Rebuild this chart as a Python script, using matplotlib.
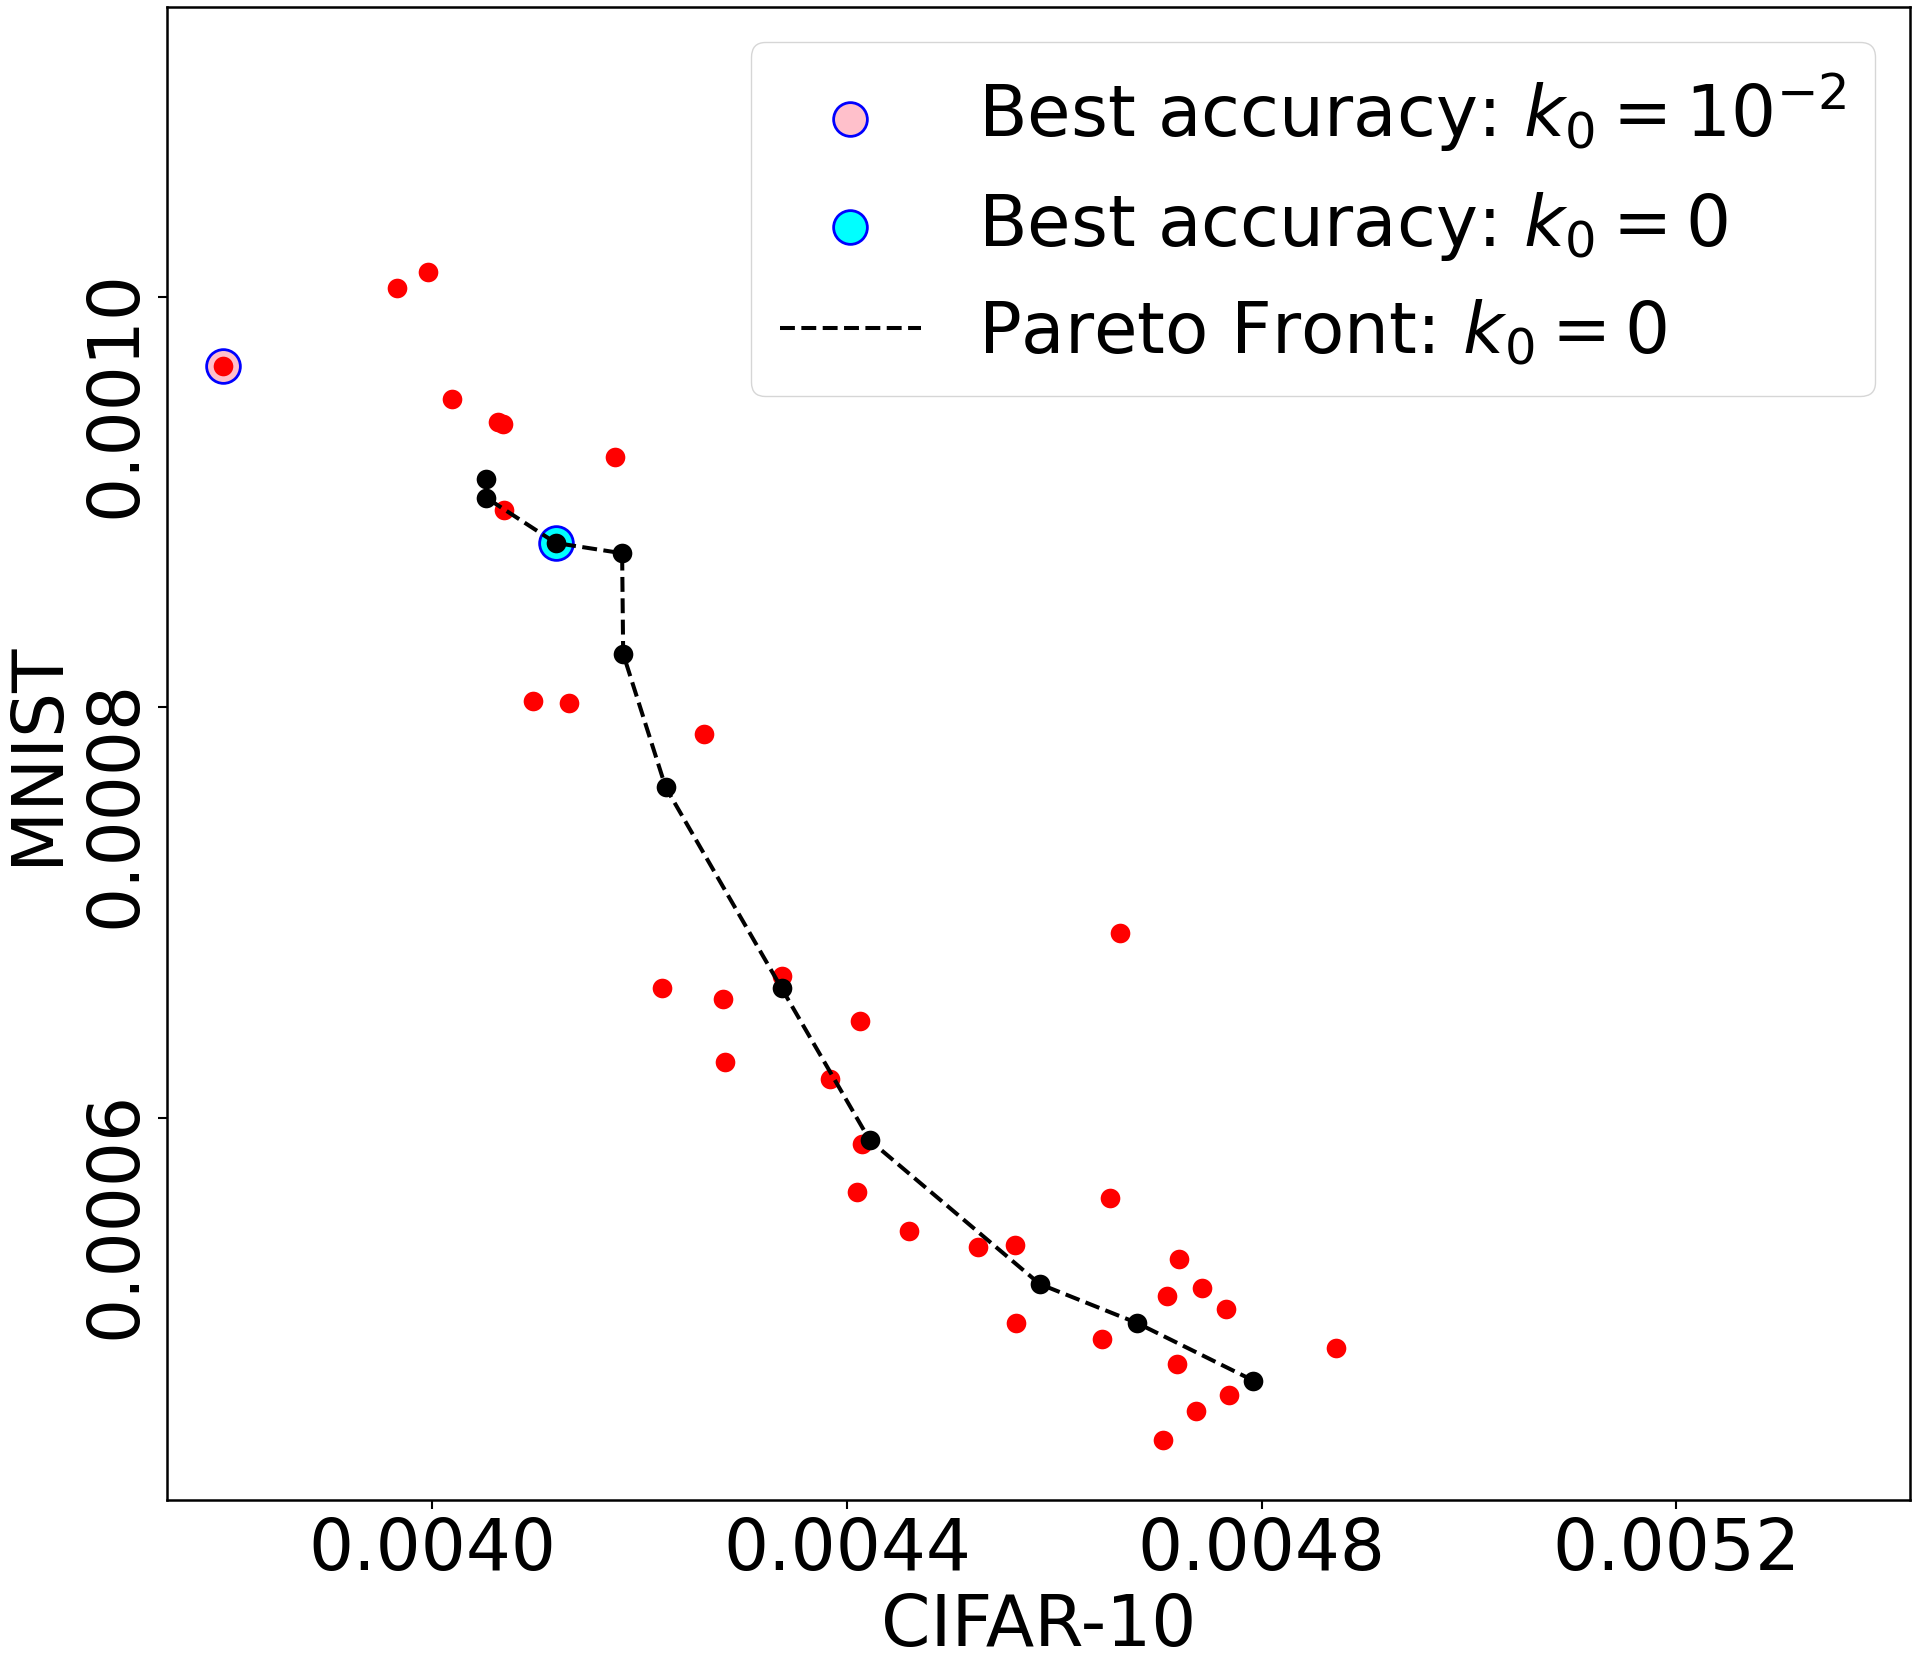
import matplotlib
matplotlib.use("Agg")
import matplotlib.pyplot as plt

# All evaluated configurations (CIFAR-10 vs MNIST)
cifar_all = [0.003798, 0.003966, 0.003996, 0.004019, 0.004063, 0.004068, 0.004176,
             0.004069, 0.004097, 0.004132, 0.004262, 0.004663, 0.004337, 0.004221,
             0.004280, 0.004413, 0.004282, 0.004384, 0.004414, 0.004410, 0.004654,
             0.004460, 0.004526, 0.004562, 0.004720, 0.004743, 0.004709, 0.004766,
             0.004563, 0.004646, 0.004872, 0.004718, 0.004769, 0.004737, 0.004705]
mnist_all = [0.000966, 0.001004, 0.001012, 0.000950, 0.000939, 0.000938, 0.000922,
             0.000896, 0.000803, 0.000802, 0.000787, 0.000690, 0.000669, 0.000663,
             0.000658, 0.000647, 0.000627, 0.000619, 0.000587, 0.000564, 0.000561,
             0.000545, 0.000537, 0.000538, 0.000531, 0.000517, 0.000513, 0.000507,
             0.000500, 0.000492, 0.000488, 0.000480, 0.000465, 0.000457, 0.000443]

# Pareto front (k0 = 0)
cifar_pareto = [0.004052, 0.004052, 0.004119, 0.004183, 0.004184, 0.004225,
                0.004337, 0.004422, 0.004586, 0.004680, 0.004792]
mnist_pareto = [0.000911, 0.000902, 0.000880, 0.000875, 0.000826, 0.000761,
                0.000663, 0.000589, 0.000519, 0.000500, 0.000472]

# Best accuracy points
best_k2 = (0.003798, 0.000966)
best_k0 = (0.004119, 0.000880)

xticks = [0.0040, 0.0044, 0.0048, 0.0052]
yticks = [0.0006, 0.0008, 0.0010]

FS = 51
fig = plt.figure(figsize=(19.19, 16.63), dpi=100)
ax = fig.add_axes([167/1919, 1 - 1500/1663, (1910-167)/1919, (1500-7)/1663])

ax.scatter([best_k2[0]], [best_k2[1]], s=590, facecolor='pink', edgecolor='blue',
           linewidths=2, zorder=2, label=r'Best accuracy: $k_0=10^{-2}$')
ax.scatter([best_k0[0]], [best_k0[1]], s=590, facecolor='cyan', edgecolor='blue',
           linewidths=2, zorder=2, label=r'Best accuracy: $k_0=0$')
ax.scatter(cifar_all, mnist_all, s=200, color='red', linewidths=0, zorder=3)
ax.plot(cifar_pareto, mnist_pareto, linestyle='--', color='black', lw=2.9, zorder=4,
        label=r'Pareto Front: $k_0=0$')
ax.scatter(cifar_pareto, mnist_pareto, s=200, color='black', linewidths=0, zorder=5)

ax.set_xlim(0.0037438, 0.0054258)
ax.set_ylim(0.0004138, 0.0011411)
ax.set_xticks(xticks)
ax.set_yticks(yticks)
ax.set_xticklabels([f"{v:.4f}" for v in xticks], fontsize=FS)
ax.set_yticklabels([f"{v:.4f}" for v in yticks], fontsize=FS, rotation=90)
ax.tick_params(length=9.5/1.389, width=1.5, pad=5)
for sp in ax.spines.values():
    sp.set_linewidth(1.8)
ax.set_xlabel('CIFAR-10', fontsize=FS, labelpad=5)
ax.set_ylabel('MNIST', fontsize=FS, labelpad=7)
ax.legend(loc='upper right', fontsize=FS)

fig.savefig('out.png', dpi=100)
